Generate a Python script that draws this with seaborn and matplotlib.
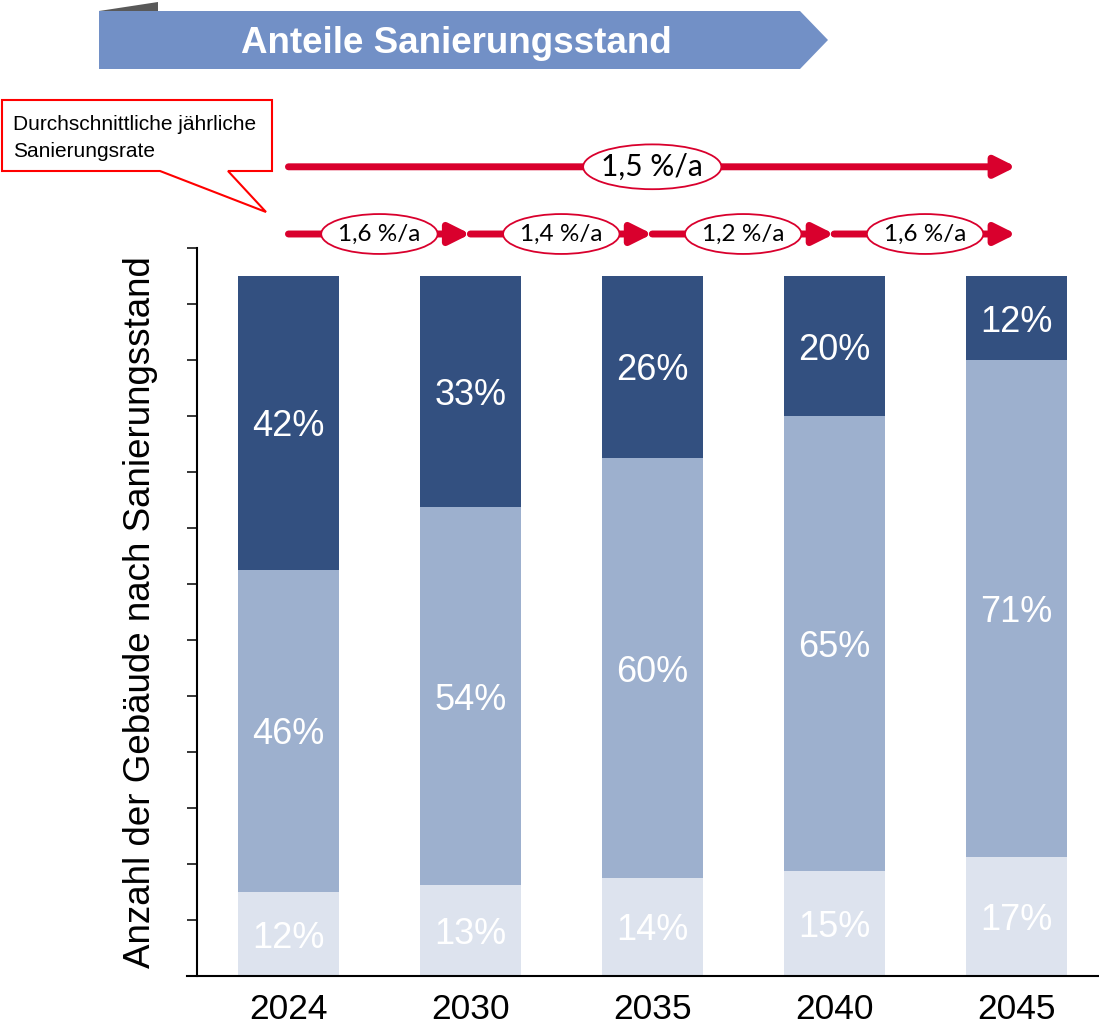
import matplotlib.pyplot as plt
import numpy as np
import pandas as pd
import seaborn as sns
from matplotlib.patches import Ellipse, Polygon

# Daten: Anteile nach Sanierungsstand (in %)
years = ["2024", "2030", "2035", "2040", "2045"]
anteil_unten = [12, 13, 14, 15, 17]
anteil_mitte = [46, 54, 60, 65, 71]
anteil_oben = [42, 33, 26, 20, 12]

# Sanierungsraten
rate_gesamt = "1,5 %/a"
raten_perioden = ["1,6 %/a", "1,4 %/a", "1,2 %/a", "1,6 %/a"]

titel = "Anteile Sanierungsstand"
callout_zeilen = ["Durchschnittliche jährliche", "Sanierungsrate"]
y_label = "Anzahl der Gebäude nach Sanierungsstand"

# Farben
c_oben = "#335080"
c_mitte = "#9DB0CE"
c_unten = "#DDE3EE"
c_rot = "#D9002D"
c_header = "#7290C6"

sns.set_theme(style="white")
plt.rcParams["font.family"] = ["Liberation Sans", "DejaVu Sans"]

W, H = 1099, 1027
fig = plt.figure(figsize=(W / 100, H / 100), dpi=100)
ax = fig.add_axes([187 / W, 51 / H, 912 / W, 728 / H])


def px(x, y):
    return (x / W, 1 - y / H)


df = pd.DataFrame({"Jahr": years, "unten": anteil_unten, "mitte": anteil_mitte, "oben": anteil_oben})
df["s1"] = df["unten"]
df["s2"] = df["unten"] + df["mitte"]
df["s3"] = df["s2"] + df["oben"]

# gestapelte Balken (von oben nach unten übermalen)
for col, farbe in [("s3", c_oben), ("s2", c_mitte), ("s1", c_unten)]:
    sns.barplot(data=df, x="Jahr", y=col, color=farbe, saturation=1, width=0.555,
                errorbar=None, ax=ax, linewidth=0)

# Prozent-Beschriftungen
for i, row in df.iterrows():
    for lo, val in [(0, row["unten"]), (row["s1"], row["mitte"]), (row["s2"], row["oben"])]:
        ax.text(i, lo + val / 2, f"{val}%", ha="center", va="center_baseline",
                fontsize=26, color="white")

ax.set_xlim(-0.5577, 4.456)
ax.set_ylim(0, 104)
ax.set_yticks(np.arange(0, 105, 8))
ax.set_yticklabels([])
ax.set_xlabel("")
ax.set_ylabel(y_label, fontsize=26.5, color="black")
ax.yaxis.set_label_coords(-0.032, 0.5)

sns.despine(ax=ax)
ax.spines["left"].set_position(("axes", 10 / 912))
ax.spines["left"].set_linewidth(1.5)
ax.spines["left"].set_color("black")
ax.spines["bottom"].set_linewidth(1.5)
ax.spines["bottom"].set_color("black")
ax.tick_params(axis="y", direction="out", length=7.5, width=1.1, color="black", left=True)
ax.tick_params(axis="x", length=0, pad=12, labelsize=25.5, labelcolor="black")

# Pfeile mit Sanierungsraten
y_top, y_low = 115.6, 106.0
arrow_kw = dict(arrowstyle="-|>,head_length=0.62,head_width=0.31", color=c_rot, lw=5,
                shrinkA=0, shrinkB=0, mutation_scale=20)
ax.annotate("", xy=(4, y_top), xytext=(0, y_top), arrowprops=arrow_kw, annotation_clip=False)
ax.add_patch(Ellipse((2, y_top), 0.76, 6.4, facecolor="white", edgecolor=c_rot, lw=1.3,
                     clip_on=False, zorder=5))
ax.text(2, y_top, rate_gesamt, ha="center", va="center", fontsize=21.5, family="Lato",
        color="black", zorder=6)

for i, rate in enumerate(raten_perioden):
    ax.annotate("", xy=(i + 1, y_low), xytext=(i, y_low), arrowprops=arrow_kw,
                annotation_clip=False)
    ax.add_patch(Ellipse((i + 0.5, y_low), 0.64, 5.7, facecolor="white", edgecolor=c_rot,
                         lw=1.3, clip_on=False, zorder=5))
    ax.text(i + 0.5, y_low, rate, ha="center", va="center", fontsize=17.5, family="Lato",
            color="black", zorder=6)

# Kopfzeile
fig.add_artist(Polygon([px(99, 11), px(158, 2), px(158, 11)], closed=True,
                       transform=fig.transFigure, facecolor="#595959", edgecolor="none"))
fig.add_artist(Polygon([px(99, 11), px(800, 11), px(828, 40), px(800, 69), px(99, 69)],
                       closed=True, transform=fig.transFigure, facecolor=c_header,
                       edgecolor="none"))
fig.text(*px(456, 53), titel, ha="center", va="baseline", fontsize=26.5,
         fontweight="bold", color="white")

# Sprechblase
fig.add_artist(Polygon([px(2, 100), px(272, 100), px(272, 171), px(228, 171), px(266, 212),
                        px(160, 171), px(2, 171)], closed=True, transform=fig.transFigure,
                       facecolor="white", edgecolor="#FF0000", lw=1.5))
fig.text(*px(13, 130), callout_zeilen[0], ha="left", va="baseline", fontsize=15, color="black")
fig.text(*px(13, 157), callout_zeilen[1], ha="left", va="baseline", fontsize=15, color="black")

fig.savefig("out.png", dpi=100)
